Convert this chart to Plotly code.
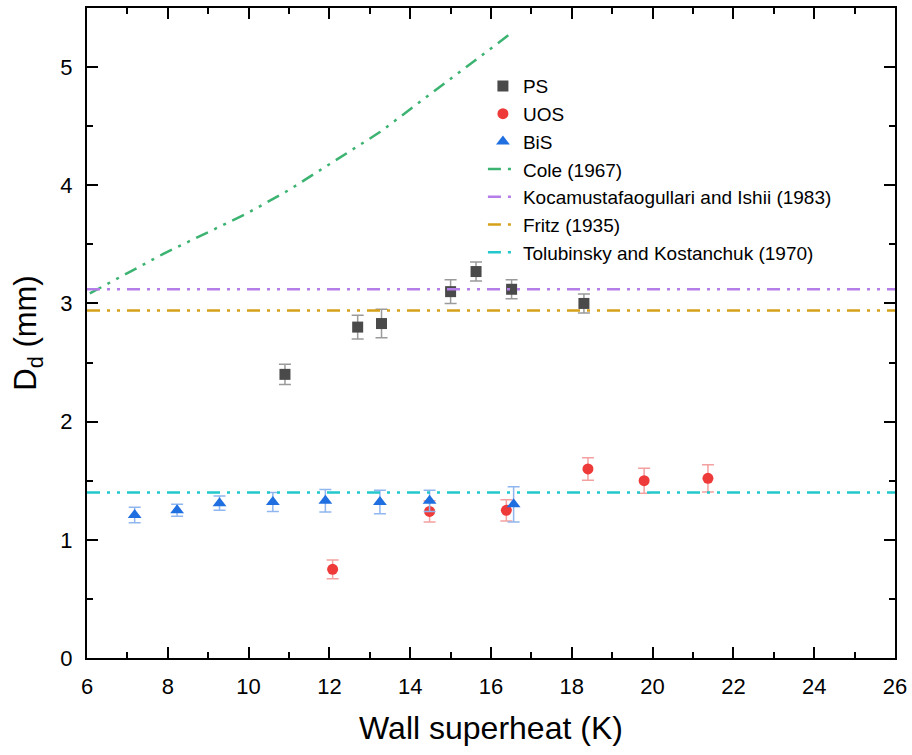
import plotly.graph_objects as go

# ---- data ----
ps_x = [10.90, 12.70, 13.29, 15.00, 15.63, 16.51, 18.30]
ps_y = [2.40, 2.80, 2.83, 3.10, 3.27, 3.12, 3.00]
ps_err = [0.085, 0.10, 0.12, 0.10, 0.08, 0.08, 0.08]

uos_x = [12.08, 14.48, 16.38, 18.40, 19.79, 21.37]
uos_y = [0.75, 1.24, 1.25, 1.60, 1.50, 1.52]
uos_err = [0.08, 0.09, 0.09, 0.095, 0.105, 0.115]

bis_x = [7.18, 8.23, 9.28, 10.60, 11.90, 13.25, 14.48, 16.56]
bis_y = [1.21, 1.25, 1.31, 1.32, 1.33, 1.32, 1.33, 1.30]
bis_err = [0.065, 0.05, 0.06, 0.08, 0.095, 0.10, 0.09, 0.15]

cole_x = [6.07, 7.89, 9.95, 11.00, 13.25, 15.00, 16.55]
cole_y = [3.085, 3.42, 3.76, 3.96, 4.45, 4.90, 5.30]

line_x = [6, 26]
koca_y = [3.12, 3.12]
fritz_y = [2.94, 2.94]
tolub_y = [1.40, 1.40]

x_ticks = [6, 8, 10, 12, 14, 16, 18, 20, 22, 24, 26]
y_ticks = [0, 1, 2, 3, 4, 5]

FONT = "Liberation Sans, Arial, sans-serif"
DASH = "13px,7px,3px,7px,3px,7px"

fig = go.Figure()

fig.add_trace(go.Scatter(
    x=ps_x, y=ps_y, mode="markers", name="PS",
    marker=dict(symbol="square", size=11, color="#4a4a4a"),
    error_y=dict(type="data", array=ps_err, color="#9a9a9a", thickness=1.5, width=6),
))
fig.add_trace(go.Scatter(
    x=uos_x, y=uos_y, mode="markers", name="UOS",
    marker=dict(symbol="circle", size=11, color="#ef3a3a"),
    error_y=dict(type="data", array=uos_err, color="#f4a0a0", thickness=1.5, width=6),
))
fig.add_trace(go.Scatter(
    x=bis_x, y=bis_y, mode="markers", name="BiS",
    marker=dict(symbol="triangle-up", size=12, color="#1f6fe0"),
    error_y=dict(type="data", array=bis_err, color="#8fb6ee", thickness=1.5, width=6),
))
fig.add_trace(go.Scatter(
    x=cole_x, y=cole_y, mode="lines", name="Cole (1967)",
    line=dict(color="#3cb371", width=2.5, dash=DASH),
))
fig.add_trace(go.Scatter(
    x=line_x, y=koca_y, mode="lines", name="Kocamustafaogullari and Ishii (1983)",
    line=dict(color="#b57de8", width=2.5, dash=DASH),
))
fig.add_trace(go.Scatter(
    x=line_x, y=fritz_y, mode="lines", name="Fritz (1935)",
    line=dict(color="#d6a11a", width=2.5, dash=DASH),
))
fig.add_trace(go.Scatter(
    x=line_x, y=tolub_y, mode="lines", name="Tolubinsky and Kostanchuk (1970)",
    line=dict(color="#22c8cc", width=2.5, dash=DASH),
))

axis_common = dict(
    showline=True, linecolor="black", linewidth=2, mirror="ticks",
    ticks="inside", ticklen=11, tickwidth=2, tickcolor="black",
    showgrid=False, zeroline=False, automargin=False,
    tickfont=dict(family=FONT, size=22, color="black"),
)

fig.update_xaxes(
    range=[6, 26], tickvals=x_ticks, ticktext=[str(v) for v in x_ticks],
    minor=dict(dtick=1, ticks="inside", ticklen=6, tickwidth=2, tickcolor="black"),
    title=dict(text="Wall superheat (K)", font=dict(family=FONT, size=32, color="black"), standoff=18),
    ticklabelstandoff=8,
    **axis_common,
)
fig.update_yaxes(
    range=[0, 5.5], tickvals=y_ticks, ticktext=[str(v) for v in y_ticks],
    minor=dict(dtick=0.5, ticks="inside", ticklen=6, tickwidth=2, tickcolor="black"),
    title=dict(text="D<sub>d</sub> (mm)", font=dict(family=FONT, size=31, color="black"), standoff=14),
    ticklabelstandoff=8,
    **axis_common,
)

fig.update_layout(
    width=912, height=755,
    margin=dict(l=87, r=17, t=8, b=97),
    paper_bgcolor="white", plot_bgcolor="white",
    font=dict(family=FONT, color="black"),
    legend=dict(
        x=0.49, y=0.909, xanchor="left", yanchor="top",
        bgcolor="rgba(0,0,0,0)", borderwidth=0,
        font=dict(family=FONT, size=19, color="black"),
        traceorder="normal",
    ),
    showlegend=True,
)

fig.write_html(
    "out.html",
    config={"displayModeBar": False},
    post_script="document.body.style.margin='0';",
)
